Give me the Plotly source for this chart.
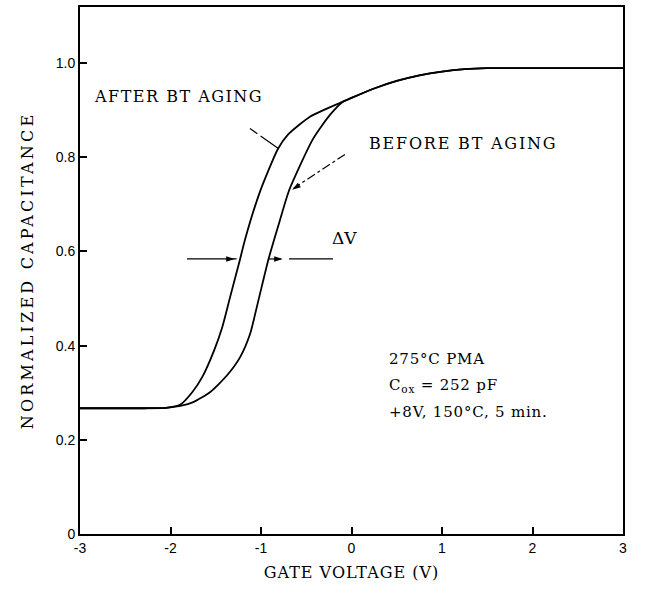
import plotly.graph_objects as go

# Gate-voltage sweep (V) and normalized capacitance, below the point where the curves merge
after_v = [-3.0, -2.3, -2.05, -1.89, -1.76, -1.65, -1.52, -1.43, -1.34, -1.232, -1.177, -1.011, -0.812, -0.702, -0.459]
after_c = [0.267, 0.267, 0.268, 0.275, 0.301, 0.333, 0.389, 0.438, 0.504, 0.583, 0.625, 0.727, 0.818, 0.848, 0.886]

before_v = [-3.0, -2.3, -2.05, -1.89, -1.748, -1.564, -1.379, -1.232, -1.122, -1.03, -0.918, -0.808, -0.687, -0.422, -0.238]
before_c = [0.267, 0.267, 0.268, 0.272, 0.280, 0.301, 0.336, 0.375, 0.424, 0.495, 0.583, 0.655, 0.731, 0.840, 0.890]

# Shared accumulation branch
common_v = [-0.094, 0.0, 0.25, 0.5, 0.75, 1.0, 1.25, 1.5, 2.0, 3.0]
common_c = [0.918, 0.926, 0.946, 0.962, 0.974, 0.982, 0.987, 0.989, 0.989, 0.989]

x_ticks = [-3, -2, -1, 0, 1, 2, 3]
x_tick_labels = ["-3", "-2", "-1", "0", "1", "2", "3"]
y_ticks = [0, 0.2, 0.4, 0.6, 0.8, 1.0]
y_tick_labels = ["0", "0.2", "0.4", "0.6", "0.8", "1.0"]

# Delta-V marker level
dv_level = 0.584

SERIF = "DejaVu Serif"
line_style = dict(color="black", width=1.8)


def spaced(text, px):
    return f'<span style="letter-spacing:{px}px">{text}</span>'


fig = go.Figure()
fig.add_trace(go.Scatter(x=after_v + common_v, y=after_c + common_c, mode="lines",
                         line=dict(shape="spline", smoothing=0.6, **line_style),
                         name="AFTER BT AGING", hoverinfo="skip"))
fig.add_trace(go.Scatter(x=before_v + common_v, y=before_c + common_c, mode="lines",
                         line=dict(shape="spline", smoothing=0.6, **line_style),
                         name="BEFORE BT AGING", hoverinfo="skip"))

# Arrowheads on the Delta-V guides and the dash-dot leader
fig.add_trace(go.Scatter(x=[-1.29, -0.76, -0.655], y=[dv_level, dv_level, 0.731], mode="markers",
                         marker=dict(symbol="arrow", size=9, angle=[90, 90, 236], color="black",
                                     line=dict(width=0)),
                         hoverinfo="skip", showlegend=False))

shapes = []
# Leader to the aged curve
shapes.append(dict(type="line", xref="x", yref="y", x0=-1.122, y0=0.861, x1=-0.812, y1=0.819,
                   line=dict(color="black", width=1.2, dash="9px,4px,40px")))
# Dash-dot leader to the unaged curve
shapes.append(dict(type="line", xref="x", yref="y", x0=-0.072, y0=0.806, x1=-0.64, y1=0.734,
                   line=dict(color="black", width=1.2, dash="dashdot")))
# Delta-V guide lines
shapes.append(dict(type="line", xref="x", yref="y", x0=-1.818, y0=dv_level, x1=-1.27, y1=dv_level,
                   line=dict(color="black", width=1.2)))
shapes.append(dict(type="line", xref="x", yref="y", x0=-0.918, y0=dv_level, x1=-0.78, y1=dv_level,
                   line=dict(color="black", width=1.2)))
shapes.append(dict(type="line", xref="x", yref="y", x0=-0.69, y0=dv_level, x1=-0.204, y1=dv_level,
                   line=dict(color="black", width=1.2)))

annotations = []
label_font = dict(family=SERIF, size=16, color="black")
annotations.append(dict(x=-1.917, y=0.928, xref="x", yref="y", text=spaced("AFTER BT AGING", 1.5),
                        showarrow=False, font=label_font))
annotations.append(dict(x=1.232, y=0.829, xref="x", yref="y", text=spaced("BEFORE BT AGING", 1.8),
                        showarrow=False, font=label_font))
annotations.append(dict(x=-0.072, y=0.628, xref="x", yref="y", text="ΔV",
                        showarrow=False, font=dict(family=SERIF, size=17, color="black")))
for yy, txt in [(0.372, "275°C PMA"), (0.315, "C<sub>ox</sub> = 252 pF"),
                (0.258, "+8V, 150°C, 5 min.")]:
    annotations.append(dict(x=0.392, y=yy, xref="x", yref="y", text=spaced(txt, 0.8),
                            xanchor="left", yanchor="middle", showarrow=False,
                            font=dict(family=SERIF, size=15, color="black")))

W, H = 648, 592
ML, MR, MT, MB = 80, 25, 5, 58

tick_font = dict(family="Liberation Sans", size=14, color="black")
fig.update_layout(
    width=W, height=H,
    margin=dict(l=ML, r=MR, t=MT, b=MB),
    paper_bgcolor="white", plot_bgcolor="white",
    showlegend=False,
    shapes=shapes, annotations=annotations,
    xaxis=dict(range=[-3, 3], tickvals=x_ticks, ticktext=x_tick_labels, ticks="inside",
               ticklen=7, tickwidth=1.5, tickcolor="black", showgrid=False, zeroline=False,
               showline=True, linecolor="black", linewidth=2, mirror=True,
               tickfont=tick_font,
               title=dict(text=spaced("GATE VOLTAGE (V)", 1.0), font=label_font, standoff=12)),
    yaxis=dict(range=[0, 1.119], tickvals=y_ticks, ticktext=y_tick_labels, ticks="inside",
               ticklen=7, tickwidth=1.5, tickcolor="black", showgrid=False, zeroline=False,
               showline=True, linecolor="black", linewidth=2, mirror=True,
               tickfont=tick_font,
               title=dict(text=spaced("NORMALIZED CAPACITANCE", 3.2), font=label_font,
                          standoff=18)),
)

fig.write_html("out.html")
